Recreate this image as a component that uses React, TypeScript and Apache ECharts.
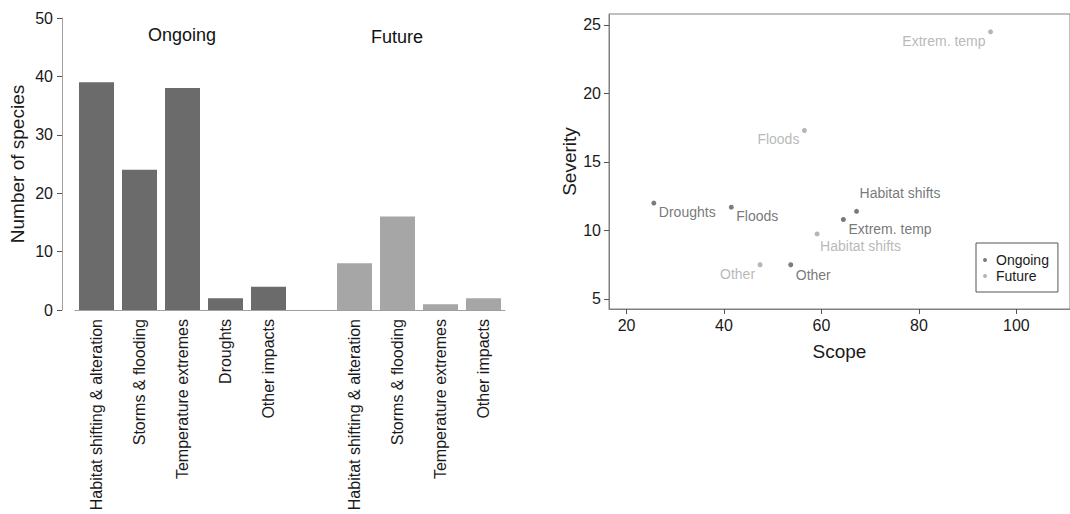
import React, { useEffect, useRef } from "react";
import * as echarts from "echarts";

// ---- Bar chart data ----
const ongoingCategories = [
  "Habitat shifting & alteration",
  "Storms & flooding",
  "Temperature extremes",
  "Droughts",
  "Other impacts",
];
const ongoingCounts = [39, 24, 38, 2, 4];
const futureCategories = [
  "Habitat shifting & alteration",
  "Storms & flooding",
  "Temperature extremes",
  "Other impacts",
];
const futureCounts = [8, 16, 1, 2];
const countTicks = [0, 10, 20, 30, 40, 50];

// ---- Scatter data ----
const ongoingNames = ["Droughts", "Floods", "Habitat shifts", "Extrem. temp", "Other"];
const ongoingScope = [25.6, 41.5, 67.2, 64.5, 53.7];
const ongoingSeverity = [12.0, 11.7, 11.4, 10.8, 7.5];
const futureNames = ["Extrem. temp", "Floods", "Habitat shifts", "Other"];
const futureScope = [94.7, 56.5, 59.1, 47.4];
const futureSeverity = [24.5, 17.3, 9.75, 7.5];
const scopeTicks = [20, 40, 60, 80, 100];
const severityTicks = [5, 10, 15, 20, 25];

// label placement (style only): [align, dx, dy] relative to point centre
const ongoingLabelPlace: Record<string, [string, number, number]> = {
  Droughts: ["left", 5, 9],
  Floods: ["left", 5, 9],
  "Habitat shifts": ["left", 3, -18],
  "Extrem. temp": ["left", 5, 9],
  Other: ["left", 5, 10],
};
const futureLabelPlace: Record<string, [string, number, number]> = {
  "Extrem. temp": ["right", -5, 9],
  Floods: ["right", -5, 9],
  "Habitat shifts": ["left", 3, 12],
  Other: ["right", -5, 9],
};

const DARK = "#6b6b6b";
const LIGHT = "#a6a6a6";
const PT_DARK = "#5a5a5a";
const PT_LIGHT = "#a3a3a3";
const AXIS = "#a0a0a0";
const FONT = "Liberation Sans, Arial, sans-serif";
const SYM = 5;

export default function App() {
  const ref = useRef<HTMLDivElement>(null);
  useEffect(() => {
    if (!ref.current) return;
    const chart = echarts.init(ref.current, undefined, { renderer: "svg" });

    const labels = [...ongoingCategories, "", ...futureCategories];
    const keys = labels.map((_, i) => "c" + i);
    const gapIndex = ongoingCategories.length;
    const ongoingBars = labels.map((_, i) => (i < gapIndex ? ongoingCounts[i] : "-"));
    const futureBars = labels.map((_, i) => (i > gapIndex ? futureCounts[i - gapIndex - 1] : "-"));

    const mkPoints = (names: string[], xs: number[], ys: number[], place: Record<string, [string, number, number]>, color: string) =>
      names.map((n, i) => {
        const p = place[n];
        return {
          name: n,
          value: [xs[i], ys[i]],
          label: {
            show: true,
            formatter: n,
            position: [SYM / 2 + p[1], SYM / 2 + p[2]],
            align: p[0],
            verticalAlign: "middle",
            color,
            fontSize: 14,
            fontFamily: FONT,
          },
        };
      });

    chart.setOption({
      animation: false,
      textStyle: { fontFamily: FONT },
      grid: [
        { left: 75, width: 430, top: 18, bottom: 204, containLabel: false },
        {
          left: 609, width: 470, top: 14, bottom: 205, containLabel: false,
          show: true, borderColor: "#808080", borderWidth: 1, backgroundColor: "transparent",
        },
      ],
      xAxis: [
        {
          gridIndex: 0,
          type: "category",
          data: keys,
          axisLine: { lineStyle: { color: AXIS, width: 1 } },
          axisTick: {
            alignWithLabel: true,
            length: 4,
            lineStyle: { color: "#555" },
            interval: (i: number) => i !== gapIndex,
          },
          axisLabel: {
            interval: 0,
            rotate: 90,
            margin: 9,
            fontSize: 16,
            color: "#1a1a1a",
            fontFamily: FONT,
            formatter: (_v: string, i: number) => labels[i],
          },
        },
        {
          gridIndex: 1,
          type: "value",
          min: 16.4,
          max: 111,
          name: "Scope",
          nameLocation: "middle",
          nameGap: 33,
          nameTextStyle: { fontSize: 19, color: "#1a1a1a", fontFamily: FONT },
          splitLine: { show: false },
          axisLine: { show: true, lineStyle: { color: "#808080" } },
          axisTick: { show: true, length: 5, customValues: scopeTicks, lineStyle: { color: "#555" } },
          axisLabel: { customValues: scopeTicks, fontSize: 16, color: "#1a1a1a", margin: 8, fontFamily: FONT },
        },
      ],
      yAxis: [
        {
          gridIndex: 0,
          type: "value",
          min: 0,
          max: 50,
          interval: 10,
          offset: 13,
          name: "Number of species",
          nameLocation: "middle",
          nameGap: 35,
          nameTextStyle: { fontSize: 19, color: "#1a1a1a", fontFamily: FONT },
          splitLine: { show: false },
          axisLine: { show: true, lineStyle: { color: AXIS } },
          axisTick: { show: true, length: 5, lineStyle: { color: "#555" }, customValues: countTicks },
          axisLabel: { fontSize: 16, color: "#1a1a1a", margin: 9, fontFamily: FONT, customValues: countTicks },
        },
        {
          gridIndex: 1,
          type: "value",
          min: 4.27,
          max: 25.8,
          name: "Severity",
          nameLocation: "middle",
          nameGap: 30,
          nameTextStyle: { fontSize: 19, color: "#1a1a1a", fontFamily: FONT },
          splitLine: { show: false },
          axisLine: { show: true, lineStyle: { color: "#808080" } },
          axisTick: { show: true, length: 5, customValues: severityTicks, lineStyle: { color: "#555" } },
          axisLabel: { customValues: severityTicks, fontSize: 16, color: "#1a1a1a", margin: 8, fontFamily: FONT },
        },
      ],
      legend: {
        data: ["Ongoing", "Future"],
        orient: "vertical",
        left: 976,
        top: 243,
        padding: [10, 9, 9, 7],
        itemGap: 2,
        itemWidth: 12,
        itemHeight: 4,
        icon: "circle",
        borderColor: "#555",
        borderWidth: 1,
        backgroundColor: "#fff",
        textStyle: { fontSize: 14, color: "#1a1a1a", fontFamily: FONT, lineHeight: 14, padding: [0, 0, 0, 0] },
      },
      graphic: [
        { type: "text", x: 182, y: 35, style: { text: "Ongoing", fontSize: 18, fill: "#111", fontFamily: FONT, align: "center", verticalAlign: "middle" } },
        { type: "text", x: 397, y: 37, style: { text: "Future", fontSize: 18, fill: "#111", fontFamily: FONT, align: "center", verticalAlign: "middle" } },
      ],
      series: [
        {
          type: "bar",
          name: "OngoingBars",
          xAxisIndex: 0,
          yAxisIndex: 0,
          data: ongoingBars,
          barWidth: 35,
          barGap: "-100%",
          itemStyle: { color: DARK },
        },
        {
          type: "bar",
          name: "FutureBars",
          xAxisIndex: 0,
          yAxisIndex: 0,
          data: futureBars,
          barWidth: 35,
          barGap: "-100%",
          itemStyle: { color: LIGHT },
        },
        {
          type: "scatter",
          name: "Ongoing",
          xAxisIndex: 1,
          yAxisIndex: 1,
          symbolSize: SYM,
          itemStyle: { color: PT_DARK },
          data: mkPoints(ongoingNames, ongoingScope, ongoingSeverity, ongoingLabelPlace, "#555"),
        },
        {
          type: "scatter",
          name: "Future",
          xAxisIndex: 1,
          yAxisIndex: 1,
          symbolSize: SYM,
          itemStyle: { color: PT_LIGHT },
          data: mkPoints(futureNames, futureScope, futureSeverity, futureLabelPlace, "#a6a6a6"),
        },
      ],
    });
    return () => chart.dispose();
  }, []);

  return (
    <div
      ref={ref}
      style={{ position: "fixed", left: 0, top: 0, width: 1070, height: 514, background: "#fff" }}
    />
  );
}
